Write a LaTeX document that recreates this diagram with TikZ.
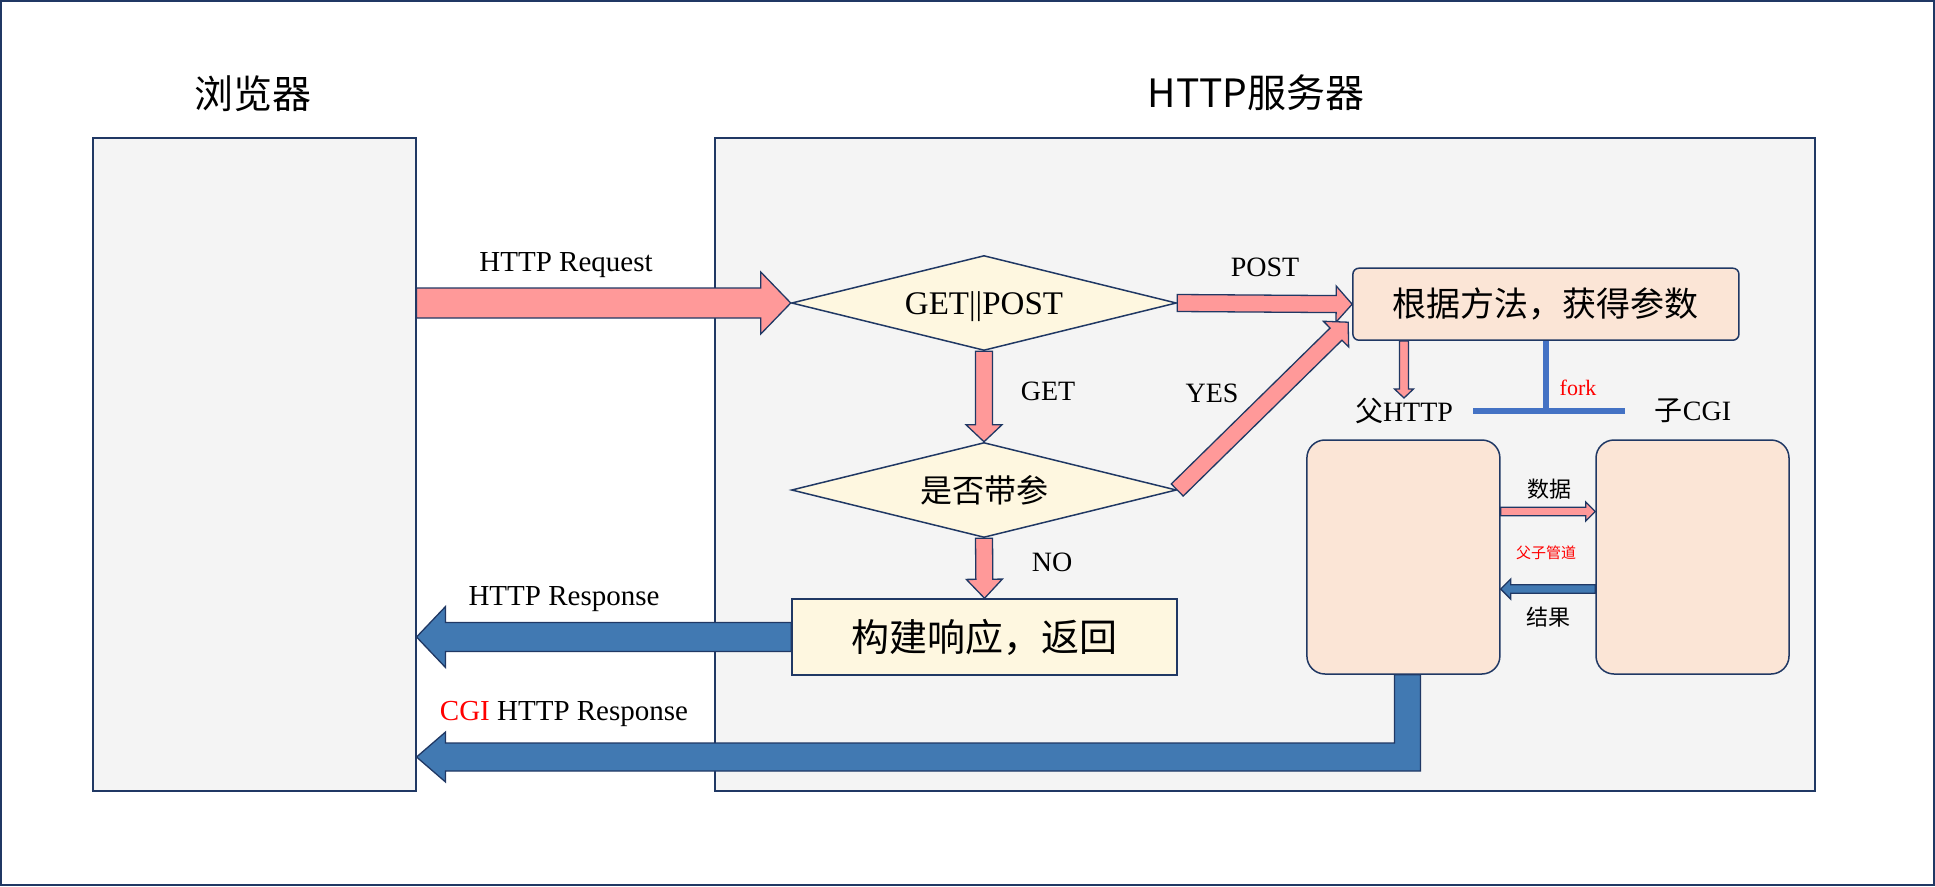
\documentclass[tikz,border=0pt]{standalone}
\usepackage{fontspec}
\setmainfont{Liberation Serif}
\newfontfamily\cjk{Noto Sans CJK SC}
\usetikzlibrary{shapes.geometric,calc}
\definecolor{linecol}{RGB}{32,56,100}
\definecolor{panelgray}{RGB}{244,244,244}
\definecolor{creamfill}{RGB}{254,247,224}
\definecolor{peachfill}{RGB}{251,229,214}
\definecolor{pinkfill}{RGB}{255,153,153}
\definecolor{bluefill}{RGB}{65,121,178}
\definecolor{forkblue}{RGB}{68,114,196}
\definecolor{redtext}{RGB}{255,0,0}
% block arrow: style, from, to, shaft half width, head half width, head length
\newcommand{\blockarrow}[6]{%
  \coordinate (ba-h) at ($(#3)!#6pt!(#2)$);
  \filldraw[#1] ($(#2)!#4pt!90:(#3)$) -- ($(ba-h)!#4pt!90:(#3)$) -- ($(ba-h)!#5pt!90:(#3)$) -- (#3)
    -- ($(ba-h)!#5pt!-90:(#3)$) -- ($(ba-h)!#4pt!-90:(#3)$) -- ($(#2)!#4pt!-90:(#3)$) -- cycle;}
\begin{document}
\begin{tikzpicture}[x=1pt,y=-1pt,
    every node/.style={align=center, inner sep=0pt},
    panel/.style={draw=linecol, line width=1.5pt, fill=panelgray},
    decision/.style={diamond, shape aspect=4, draw=linecol, line width=1.5pt, fill=creamfill,
      minimum width=385pt, minimum height=95pt, font=\fontsize{33}{38}\selectfont},
    stepbox/.style={draw=linecol, line width=1.5pt, fill=creamfill},
    procbox/.style={draw=linecol, line width=1.5pt, fill=peachfill},
    pinkarrow/.style={draw=linecol, line width=1.3pt, fill=pinkfill, line join=miter},
    bluearrow/.style={draw=linecol, line width=1.3pt, fill=bluefill, line join=miter},
    forkline/.style={draw=forkblue, line width=5.5pt},
    title/.style={font=\cjk\fontsize{39}{46}\selectfont},
    lbl/.style={font=\fontsize{28}{33}\selectfont},
    small/.style={font=\cjk\fontsize{22}{26}\selectfont},
    ]
\useasboundingbox (0,0) rectangle (1935,886);
\draw[draw=linecol, line width=2pt] (1,1) rectangle (1934,885);
\node[panel, minimum width=323pt, minimum height=653pt] (browser) at (254.3,464.5) {};
\node[panel, minimum width=1100pt, minimum height=653pt] (server) at (1264.8,464.5) {};
\node[title] (tbrowser) at (253,94) {浏览器};
\node[title] (tserver) at (1256,93) {HTTP服务器};
\node[decision, text depth=0pt] (d1) at (984,303) {GET||POST};
\node[decision, font=\cjk\fontsize{32}{36}\selectfont] (d2) at (984,490) {是否带参};
\node[stepbox, minimum width=385pt, minimum height=76pt, font=\cjk\fontsize{38}{44}\selectfont] (build) at (984.5,637) {构建响应，返回};
\node[procbox, rounded corners=6pt, minimum width=386pt, minimum height=72pt, font=\cjk\fontsize{34}{40}\selectfont] (pm) at (1545.9,304.2) {根据方法，获得参数};
\node[procbox, rounded corners=18pt, minimum width=193pt, minimum height=234pt] (pf) at (1403.4,557) {};
\node[procbox, rounded corners=18pt, minimum width=193pt, minimum height=234pt] (pc) at (1692.5,557) {};
\node[lbl, font=\fontsize{29}{34}\selectfont] (lreq) at (566,265) {HTTP Request};
\node[lbl] (lpost) at (1265,267) {POST};
\node[lbl] (lget) at (1048,391) {GET};
\node[lbl] (lyes) at (1212,393) {YES};
\node[lbl] (lno) at (1052,562) {NO};
\node[lbl, font=\fontsize{29}{34}\selectfont] (lresp) at (564,599) {HTTP Response};
\node[lbl, font=\fontsize{29}{34}\selectfont] (lcgi) at (564,714) {\textcolor{redtext}{CGI} HTTP Response};
\node[lbl] (fh) at (1404,411) {{\cjk 父}HTTP};
\node[lbl] (fc) at (1693,411) {{\cjk 子}CGI};
\node[lbl, font=\fontsize{22}{26}\selectfont, text=redtext] (lfork) at (1578,388) {fork};
\node[small] (ldata) at (1549,489) {数据};
\node[small, font=\cjk\fontsize{15}{18}\selectfont, text=redtext] (lpipe) at (1546,553) {父子管道};
\node[small] (lres) at (1548,617) {结果};
\coordinate (reqstart) at (browser.east |- d1.west);
\coordinate (respend) at (browser.east |- build.west);
\coordinate (yestip) at ($(pm.west)+(-4,18)$);
\coordinate (fatherstart) at (pm.south -| fh.north);
\coordinate (datastart) at ($(pf.east)+(0,-45.5)$);
\coordinate (dataend) at (pc.west |- datastart);
\coordinate (resstart) at ($(pc.west)+(0,32)$);
\coordinate (resend) at (pf.east |- resstart);
\coordinate (forkc) at (pm.south |- fh.center);
\coordinate (forkl) at (1473,411);
\coordinate (forkr) at (1625,411);
\coordinate (cgitip) at (browser.east |- 0,757);
\blockarrow{pinkarrow}{reqstart}{d1.west}{15}{31}{30}
\blockarrow{pinkarrow}{d1.east}{pm.west}{8.5}{18}{16}
\blockarrow{pinkarrow}{d1.south}{d2.north}{8.5}{18}{17}
\blockarrow{pinkarrow}{d2.south}{build.north}{8.5}{18}{19}
\blockarrow{pinkarrow}{d2.east}{yestip}{8.5}{18}{17}
\blockarrow{bluearrow}{build.west}{respend}{14.5}{30.5}{29}
\blockarrow{pinkarrow}{fatherstart}{fh.north}{4.5}{9.5}{9}
\blockarrow{pinkarrow}{datastart}{dataend}{4.25}{9.5}{9.5}
\blockarrow{bluearrow}{resstart}{resend}{4.25}{10}{10}
\filldraw[bluearrow] let \p1=(pf.south), \p2=(cgitip) in
  (\x1-9pt,\y1) -- (\x1-9pt,\y2+14pt) -- (\x2+29pt,\y2+14pt) -- (\x2+29pt,\y2+25pt) -- (\p2)
  -- (\x2+29pt,\y2-25pt) -- (\x2+29pt,\y2-14pt) -- (\x1+17pt,\y2-14pt) -- (\x1+17pt,\y1) -- cycle;
\draw[forkline] (pm.south) -- (forkc);
\draw[forkline] (forkl) -- (forkr);
\end{tikzpicture}
\end{document}
